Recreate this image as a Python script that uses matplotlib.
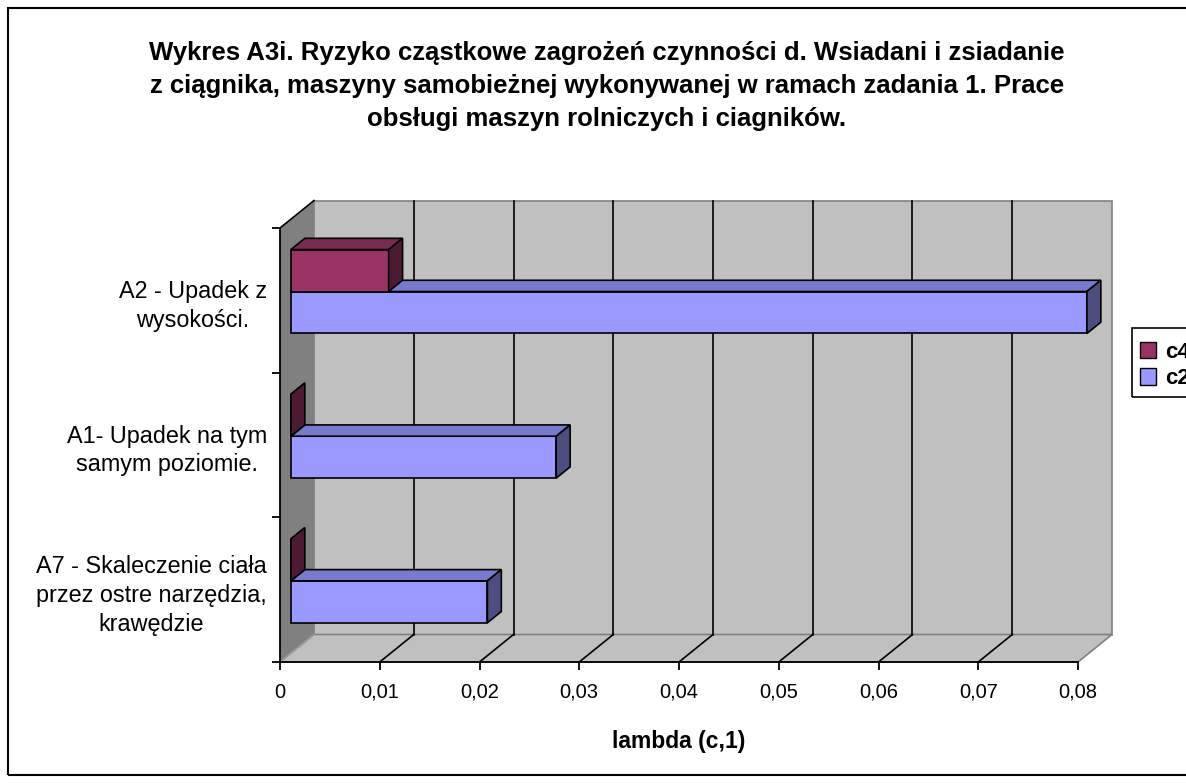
import matplotlib
matplotlib.use('Agg')
import matplotlib.pyplot as plt
from matplotlib.patches import Polygon, Rectangle, Patch

plt.rcParams['font.family'] = ['Liberation Sans', 'DejaVu Sans']

# data (bottom to top, as drawn)
categories = ['A7 - Skaleczenie ciała\nprzez ostre narzędzia,\nkrawędzie',
              'A1- Upadek na tym\nsamym poziomie.',
              'A2 - Upadek z\nwysokości.']
c2 = [0.0197, 0.0266, 0.0798]
c4 = [0.0, 0.0, 0.0098]
xticks = [0, 0.01, 0.02, 0.03, 0.04, 0.05, 0.06, 0.07, 0.08]
xtick_labels = ['0', '0,01', '0,02', '0,03', '0,04', '0,05', '0,06', '0,07', '0,08']

W, H = 1186, 783
fig = plt.figure(figsize=(W / 100, H / 100), dpi=100)
ax = fig.add_axes([280 / W, (H - 662) / H, 798 / W, 434 / H])
xmax = xticks[-1]
ncat = len(categories)
ax.set_xlim(0, xmax)
ax.set_ylim(0, ncat)
ax.patch.set_visible(False)

# 3d depth offsets in data units
DX = 34 / 9975
DY = 0.19
d0, d1 = 0.32, 0.73
wall = '#C0C0C0'
side = '#808080'

# walls
ax.add_patch(Polygon([(0, 0), (0, ncat), (DX, ncat + DY), (DX, DY)],
                     facecolor=side, edgecolor='none', zorder=1, clip_on=False))
ax.add_patch(Polygon([(DX, DY), (xmax + DX, DY), (xmax + DX, ncat + DY), (DX, ncat + DY)],
                     facecolor=wall, edgecolor='#808080', lw=1.2, zorder=1, clip_on=False))
ax.add_patch(Polygon([(0, 0), (xmax, 0), (xmax + DX, DY), (DX, DY)],
                     facecolor=wall, edgecolor='#808080', lw=1.2, zorder=1, clip_on=False))
ax.plot([0, DX], [ncat, ncat + DY], color='black', lw=1.2, zorder=2, clip_on=False)
ax.plot([0, DX], [0, DY], color='#A0A0A0', lw=1, zorder=2, clip_on=False)
for t in xticks[1:-1]:
    ax.plot([t + DX, t + DX], [DY, ncat + DY], color='black', lw=1.2, zorder=2, clip_on=False)
    ax.plot([t, t + DX], [0, DY], color='black', lw=1.2, zorder=2, clip_on=False)


def bar3d(v, y0, h, front, top, right):
    xa, ya = d0 * DX, d0 * DY
    xb, yb = d1 * DX, d1 * DY
    kw = dict(edgecolor='black', lw=1.2, zorder=3, clip_on=False, joinstyle='miter')
    ax.add_patch(Polygon([(xa, y0 + ya), (v + xa, y0 + ya), (v + xa, y0 + h + ya), (xa, y0 + h + ya)],
                         facecolor=front, **kw))
    ax.add_patch(Polygon([(xa, y0 + h + ya), (v + xa, y0 + h + ya), (v + xb, y0 + h + yb), (xb, y0 + h + yb)],
                         facecolor=top, **kw))
    ax.add_patch(Polygon([(v + xa, y0 + ya), (v + xb, y0 + yb), (v + xb, y0 + h + yb), (v + xa, y0 + h + ya)],
                         facecolor=right, **kw))


bh = 0.29
for i in range(ncat):
    bar3d(c2[i], i + 0.5 - bh, bh, '#9999FF', '#7A7ACC', '#4D4D80')
    bar3d(c4[i], i + 0.5, bh, '#993366', '#7A2952', '#4D1A33')

# axes, ticks
for s in ['top', 'right']:
    ax.spines[s].set_visible(False)
for s in ['left', 'bottom']:
    ax.spines[s].set_linewidth(1.3)
    ax.spines[s].set_zorder(4)
ax.set_xticks(xticks)
ax.set_xticklabels(xtick_labels, fontsize=14.5)
ax.tick_params(axis='x', length=6, width=1.3, pad=9)
ax.set_yticks(range(ncat + 1))
ax.set_yticklabels([])
ax.set_yticks([i + 0.5 for i in range(ncat)], minor=True)
ax.set_yticklabels(categories, minor=True, fontsize=16.8, multialignment='center', linespacing=1.33)
ax.tick_params(axis='y', which='major', length=6, width=1.3)
ax.tick_params(axis='y', which='minor', length=0, pad=9.5)
ax.set_xlabel('lambda (c,1)', fontsize=16.5, fontweight='bold', labelpad=20)

fig.text(607 / W, 1 - 86 / H,
         'Wykres A3i. Ryzyko cząstkowe zagrożeń czynności d. Wsiadani i zsiadanie\n'
         'z ciągnika, maszyny samobieżnej wykonywanej w ramach zadania 1. Prace\n'
         'obsługi maszyn rolniczych i ciagników.',
         ha='center', va='center', fontsize=18.5, fontweight='bold', linespacing=1.48)

# legend (frame drawn separately, cut by the figure edge like the original)
handles = [Patch(facecolor='#993366', edgecolor='black'), Patch(facecolor='#9999FF', edgecolor='black')]
leg = fig.legend(handles, ['c4', 'c2'], loc='upper left', bbox_to_anchor=(1132 / W, 1 - 334 / H),
                 borderaxespad=0, frameon=False,
                 handlelength=0.75, handleheight=0.75, prop={'weight': 'bold', 'size': 16},
                 borderpad=0.35, labelspacing=0.25, handletextpad=0.4)
fig.add_artist(Rectangle((1132 / W, 1 - 397 / H), 0.2, 69 / H, transform=fig.transFigure,
                         fill=False, edgecolor='black', lw=1.2))

fig.add_artist(Rectangle((8 / W, 8 / H), 1.2, (775 - 8) / H, transform=fig.transFigure,
                         fill=False, edgecolor='black', lw=1.5))

fig.savefig('out.png', dpi=100)
